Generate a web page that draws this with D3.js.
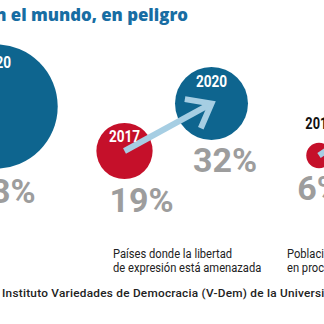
<!DOCTYPE html>
<html><head><meta charset="utf-8">
<script src="https://cdn.jsdelivr.net/npm/d3@7"></script>
<style>html,body{margin:0;padding:0;background:#fff;overflow:hidden}</style>
</head><body><svg id="chart" width="324" height="324"></svg>
<script>
// ---- data ----
const titleText = "La democracia en el mundo, en peligro";
const sourceText = "Instituto Variedades de Democracia (V-Dem) de la Universidad de Gotemburgo";
const circleYears = ["2020", "2017", "2020", "2017", "2020"];
const circleValues = [93, 19, 32, 6, 34];
const circleGroup = [0, 1, 1, 2, 2];
const groupCaptions = [
  [],
  ["Países donde la libertad", "de expresión está amenazada"],
  ["Población que vive en países", "en proceso de autocratización"]
];
const arrowPairs = [[1, 2], [3, 4]];

// ---- layout ----
const W = 324, H = 324;
const centers = [[-4.5, 106.5], [124.5, 151], [211.5, 103.5], [319, 155.5], [405, 98]];
const pctAt = [[3.5, 203], [141.5, 212], [225, 172], [319.5, 200], [425, 160]];
const captionAt = [null, [113, 258], [287, 258]];
const groupMaxRadius = [64.5, 64.5, 52];

const colors = d3.scaleOrdinal().domain(["2017", "2020"]).range(["#c5102a", "#0e658f"]);
const arrowColor = "#a6cee3";
const grey = "#9d9d9d";
const rScales = groupMaxRadius.map(m => d3.scaleSqrt().domain([0, 100]).range([0, m]));

const svg = d3.select("#chart");
svg.append("rect").attr("width", W).attr("height", H).attr("fill", "#fff");

const circles = circleValues.map((v, i) => ({
  i, value: v, year: circleYears[i], group: circleGroup[i],
  cx: centers[i][0], cy: centers[i][1],
  r: rScales[circleGroup[i]](v)
}));

// narrow text via horizontal scaling
function narrow(sel, x, y, sx) {
  return sel.attr("x", 0).attr("y", 0)
    .attr("transform", `translate(${x},${y}) scale(${sx},1)`);
}

// title
svg.append("text")
  .attr("x", 188).attr("y", 21)
  .attr("text-anchor", "end")
  .attr("font-family", "'Open Sans', sans-serif")
  .attr("font-weight", 800)
  .attr("font-size", 16.8)
  .attr("fill", "#176da3")
  .text(titleText);

// bubbles
svg.append("g").selectAll("circle").data(circles).join("circle")
  .attr("cx", d => d.cx).attr("cy", d => d.cy).attr("r", d => d.r)
  .attr("fill", d => colors(d.year));

// arrows between consecutive years
const arrows = svg.append("g")
  .attr("stroke", arrowColor).attr("fill", "none")
  .attr("stroke-width", 6);
arrowPairs.forEach(([a, b]) => {
  const p = circles[a], q = circles[b];
  const ang = Math.atan2(q.cy - p.cy, q.cx - p.cx);
  const len = 27, spread = 38 * Math.PI / 180;
  arrows.append("line")
    .attr("x1", p.cx).attr("y1", p.cy)
    .attr("x2", q.cx - 3 * Math.cos(ang)).attr("y2", q.cy - 3 * Math.sin(ang));
  const arm = s => [q.cx - len * Math.cos(ang + s), q.cy - len * Math.sin(ang + s)];
  arrows.append("path")
    .attr("stroke-linejoin", "miter")
    .attr("d", d3.line()([arm(spread), [q.cx, q.cy], arm(-spread)]));
});

// year labels
circles.forEach(d => {
  const inside = d.r >= 20;
  const t = svg.append("text")
    .attr("text-anchor", "middle")
    .attr("font-family", "Roboto, sans-serif")
    .attr("font-weight", 700)
    .attr("font-size", inside ? 17 : 16)
    .attr("fill", inside ? "#fff" : "#111")
    .text(d.year);
  if (inside) narrow(t, d.cx, d.cy - d.r + 16 + 0.12 * d.r, 0.8);
  else narrow(t, d.cx + 1, d.cy - d.r - 14, 0.8);
});

// percentage labels
circles.forEach(d => {
  const t = svg.append("text")
    .attr("text-anchor", "middle")
    .attr("font-family", "Roboto, sans-serif")
    .attr("font-weight", 700)
    .attr("font-size", 34)
    .attr("fill", grey)
    .text(d.value + "%");
  narrow(t, pctAt[d.i][0], pctAt[d.i][1], 1);
});

// group captions
groupCaptions.forEach((lines, g) => {
  if (!captionAt[g]) return;
  lines.forEach((line, k) => {
    const t = svg.append("text")
      .attr("font-family", "Roboto, sans-serif")
      .attr("font-size", 13)
      .attr("fill", "#222")
      .text(line);
    narrow(t, captionAt[g][0], captionAt[g][1] + k * 14, 0.86);
  });
});

// source
svg.append("text")
  .attr("x", 2).attr("y", 297)
  .attr("font-family", "Roboto, sans-serif")
  .attr("font-weight", 500)
  .attr("font-size", 11.8)
  .attr("letter-spacing", 0.25)
  .attr("fill", "#222")
  .text(sourceText);
</script></body></html>
